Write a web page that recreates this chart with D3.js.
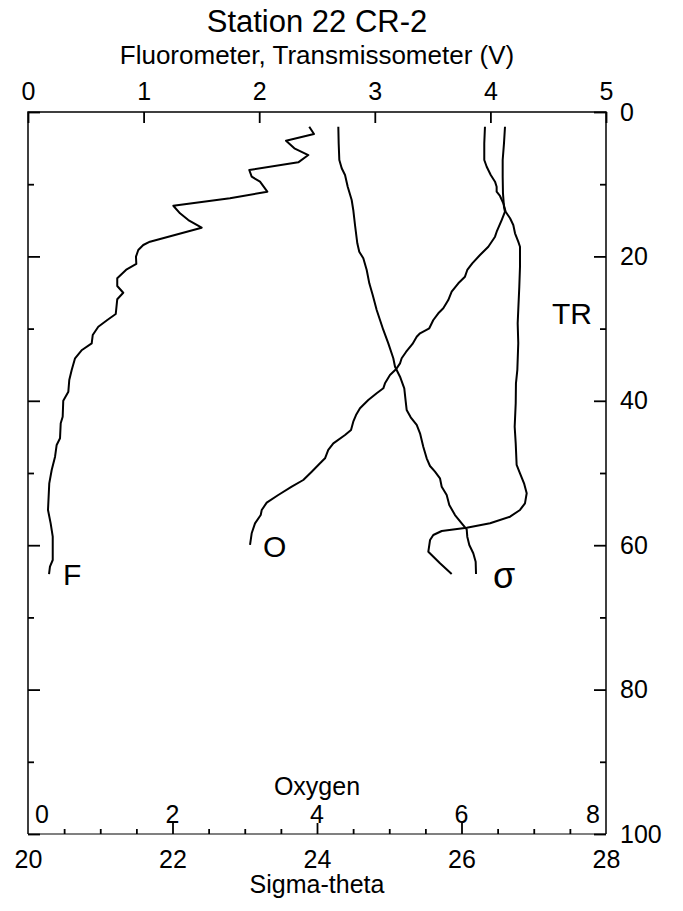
<!DOCTYPE html>
<html>
<head>
<meta charset="utf-8">
<script src="https://cdn.jsdelivr.net/npm/d3@7"></script>
<style>
  html, body { margin: 0; padding: 0; background: #fff; }
  svg { display: block; font-family: "Liberation Sans", Arial, Helvetica, sans-serif; }
</style>
</head>
<body>
<svg id="chart" width="683" height="911"></svg>
<script>
// ---- Data ----
const titleText = "Station 22 CR-2";
const topAxisTitle = "Fluorometer, Transmissometer (V)";
const oxyAxisTitle = "Oxygen";
const sigmaAxisTitle = "Sigma-theta";

const topTicks = [0, 1, 2, 3, 4, 5];
const depthMajorTicks = [0, 20, 40, 60, 80, 100];
const depthMinorTicks = [10, 30, 50, 70, 90];
const oxyTicks = [0, 2, 4, 6, 8];
const sigmaMajorTicks = [20, 22, 24, 26, 28];
const sigmaMinorTicks = [20.5, 21, 21.5, 22.5, 23, 23.5, 24.5, 25, 25.5, 26.5, 27, 27.5];

// Fluorometer (V) vs depth (m)
const fluorDepth = [2.04, 3.05, 3.97, 5.03, 5.96, 6.97, 8.03, 8.96, 9.65, 11.04, 11.95, 12.98, 14.03, 14.96, 16.02, 17.96, 18.42, 19.11, 20.04, 21.05, 21.79, 22.44, 23.03, 24.1, 25.03, 25.94, 27.98, 28.81, 29.74, 30.89, 32.04, 32.96, 34.11, 35.73, 37.12, 38.74, 39.99, 42.2, 43.12, 45.19, 46.12, 47.74, 49.58, 51.43, 55.12, 56.97, 58.82, 62.05, 62.98, 64.0];
const fluor = [2.433, 2.474, 2.232, 2.304, 2.425, 2.338, 1.914, 1.935, 2.007, 2.07, 1.747, 1.257, 1.315, 1.387, 1.502, 1.055, 0.997, 0.954, 0.934, 0.937, 0.854, 0.811, 0.772, 0.772, 0.824, 0.772, 0.759, 0.686, 0.608, 0.56, 0.551, 0.467, 0.407, 0.378, 0.357, 0.349, 0.305, 0.3, 0.283, 0.277, 0.248, 0.234, 0.205, 0.184, 0.173, 0.196, 0.214, 0.214, 0.19, 0.182];

// Transmissometer (V) vs depth (m)
const transDepth = [2.04, 4.34, 6.65, 7.58, 8.73, 9.65, 10.35, 11.04, 11.63, 12.65, 13.81, 14.72, 15.65, 16.8, 17.96, 18.66, 21.43, 24.2, 27.42, 29.27, 32.04, 35.73, 37.58, 40.35, 43.59, 45.89, 48.89, 50.04, 51.43, 52.81, 54.2, 55.12, 56.05, 56.97, 57.58, 58.03, 58.59, 59.28, 60.9, 62.51, 63.99];
const trans = [3.953, 3.947, 3.947, 3.968, 4.003, 4.04, 4.054, 4.054, 4.083, 4.112, 4.132, 4.17, 4.198, 4.213, 4.241, 4.256, 4.256, 4.25, 4.241, 4.236, 4.241, 4.233, 4.221, 4.219, 4.21, 4.219, 4.227, 4.256, 4.291, 4.314, 4.299, 4.256, 4.17, 3.997, 3.795, 3.579, 3.506, 3.478, 3.463, 3.564, 3.665];

// Oxygen vs depth (m)
const oxyDepth = [2.04, 4.34, 6.65, 8.96, 11.26, 13.12, 13.81, 14.96, 16.58, 17.27, 18.66, 19.81, 20.96, 21.88, 22.81, 23.73, 24.89, 26.04, 27.19, 27.88, 28.81, 29.96, 30.65, 31.12, 32.13, 33.24, 34.11, 34.81, 35.64, 36.43, 37.58, 38.27, 38.96, 39.89, 41.04, 41.97, 42.89, 44.04, 44.74, 45.89, 46.81, 47.96, 48.66, 49.82, 50.97, 51.9, 53.05, 54.11, 55.12, 55.82, 56.97, 58.35, 59.97];
const oxygen = [6.602, 6.588, 6.57, 6.57, 6.574, 6.588, 6.602, 6.556, 6.487, 6.464, 6.371, 6.256, 6.149, 6.08, 6.048, 5.956, 5.864, 5.817, 5.748, 5.679, 5.61, 5.554, 5.426, 5.38, 5.322, 5.232, 5.172, 5.149, 5.093, 5.01, 4.941, 4.918, 4.826, 4.71, 4.595, 4.54, 4.502, 4.471, 4.388, 4.226, 4.156, 4.111, 4.042, 3.927, 3.81, 3.65, 3.464, 3.304, 3.235, 3.221, 3.142, 3.096, 3.073];

// Sigma-theta vs depth (m)
const sigmaDepth = [2.04, 4.34, 6.65, 7.8, 8.73, 10.35, 12.19, 13.57, 15.65, 18.19, 19.35, 20.26, 21.88, 23.73, 25.35, 27.42, 28.81, 30.19, 32.04, 34.11, 35.28, 36.66, 38.27, 40.12, 41.27, 42.29, 43.35, 44.5, 46.36, 47.96, 49.03, 49.82, 50.73, 51.9, 53.05, 54.43, 55.82, 56.97, 57.8, 58.82, 59.97, 61.12, 62.29, 63.99];
const sigma = [24.295, 24.3, 24.309, 24.342, 24.388, 24.425, 24.48, 24.502, 24.526, 24.558, 24.585, 24.641, 24.688, 24.724, 24.771, 24.826, 24.872, 24.918, 24.987, 25.056, 25.08, 25.149, 25.208, 25.228, 25.241, 25.297, 25.38, 25.426, 25.471, 25.518, 25.564, 25.633, 25.702, 25.726, 25.795, 25.831, 25.91, 26.003, 26.072, 26.08, 26.108, 26.163, 26.196, 26.201];

const curveLabels = [
  { text: "F", series: "fluor" },
  { text: "O", series: "oxygen" },
  { text: "TR", series: "trans" },
  { text: "\u03C3", series: "sigma" }
];

// ---- Layout ----
const L = 28, R = 606, T = 112, B = 834;
const FONT = 25;

const svg = d3.select("#chart");

const xV = d3.scaleLinear().domain([0, 5]).range([L, R]);
const xO = d3.scaleLinear().domain([0, 8]).range([L, R]);
const xS = d3.scaleLinear().domain([20, 28]).range([L, R]);
const y = d3.scaleLinear().domain([0, 100]).range([T, B]);

// Titles
svg.append("text").attr("x", (L + R) / 2).attr("y", 32)
  .attr("text-anchor", "middle").attr("font-size", 31).text(titleText);
svg.append("text").attr("x", (L + R) / 2).attr("y", 64)
  .attr("text-anchor", "middle").attr("font-size", 26).text(topAxisTitle);

// Bottom frame line (grey)
svg.append("line").attr("x1", L).attr("x2", R).attr("y1", B).attr("y2", B)
  .attr("stroke", "#808080").attr("stroke-width", 2);

// Frame: top, left, right (black)
svg.append("path")
  .attr("d", `M${L},${B}V${T}H${R}V${B}`)
  .attr("fill", "none").attr("stroke", "#000").attr("stroke-width", 1.5);

function styleAxis(g) {
  g.select(".domain").remove();
  g.selectAll(".tick line").attr("stroke", "#000").attr("stroke-width", 1.8);
  g.selectAll(".tick text").attr("font-size", FONT)
    .attr("font-family", "Liberation Sans, Arial, Helvetica, sans-serif").attr("fill", "#000");
}

// Top axis (Fluorometer/Transmissometer V)
svg.append("g").attr("transform", `translate(0,${T})`)
  .call(d3.axisTop(xV).tickValues(topTicks).tickSize(-11).tickSizeOuter(0)
    .tickPadding(12).tickFormat(d3.format("d")))
  .call(styleAxis);

// Right axis (depth)
svg.append("g").attr("transform", `translate(${R},0)`)
  .call(d3.axisRight(y).tickValues(depthMajorTicks).tickSize(-12).tickSizeOuter(0)
    .tickPadding(14).tickFormat(d3.format("d")))
  .call(styleAxis);
svg.append("g").attr("transform", `translate(${R},0)`)
  .call(d3.axisRight(y).tickValues(depthMinorTicks).tickSize(-6).tickSizeOuter(0).tickFormat(""))
  .call(styleAxis);

// Left axis (depth, no labels)
svg.append("g").attr("transform", `translate(${L},0)`)
  .call(d3.axisLeft(y).tickValues(depthMajorTicks).tickSize(-12).tickSizeOuter(0).tickFormat(""))
  .call(styleAxis);
svg.append("g").attr("transform", `translate(${L},0)`)
  .call(d3.axisLeft(y).tickValues(depthMinorTicks).tickSize(-6).tickSizeOuter(0).tickFormat(""))
  .call(styleAxis);

// Bottom axis (Sigma-theta)
const gS = svg.append("g").attr("transform", `translate(0,${B})`)
  .call(d3.axisBottom(xS).tickValues(sigmaMajorTicks).tickSize(-11).tickSizeOuter(0)
    .tickPadding(16).tickFormat(d3.format("d")))
  .call(styleAxis);
gS.selectAll(".tick").filter(d => d === 20 || d === 28).select("line").remove();
svg.append("g").attr("transform", `translate(0,${B})`)
  .call(d3.axisBottom(xS).tickValues(sigmaMinorTicks).tickSize(-5).tickSizeOuter(0).tickFormat(""))
  .call(styleAxis);

// Oxygen tick labels (inside the frame above bottom axis)
svg.append("g").selectAll("text").data(oxyTicks).join("text")
  .attr("x", (d, i) => i === 0 ? xO(d) + 7 : (i === oxyTicks.length - 1 ? xO(d) - 6 : xO(d)))
  .attr("y", 823)
  .attr("text-anchor", (d, i) => i === 0 ? "start" : (i === oxyTicks.length - 1 ? "end" : "middle"))
  .attr("font-size", FONT).text(d => d);

svg.append("text").attr("x", (L + R) / 2).attr("y", 795)
  .attr("text-anchor", "middle").attr("font-size", FONT).text(oxyAxisTitle);
svg.append("text").attr("x", (L + R) / 2).attr("y", 893)
  .attr("text-anchor", "middle").attr("font-size", FONT).text(sigmaAxisTitle);

// Profiles
const series = {
  fluor:  { xs: fluor,  ys: fluorDepth, sx: xV },
  trans:  { xs: trans,  ys: transDepth, sx: xV },
  oxygen: { xs: oxygen, ys: oxyDepth,   sx: xO },
  sigma:  { xs: sigma,  ys: sigmaDepth, sx: xS }
};
Object.values(series).forEach(s => {
  const pts = s.xs.map((v, i) => [v, s.ys[i]]);
  svg.append("path")
    .attr("d", d3.line().x(p => s.sx(p[0])).y(p => y(p[1]))(pts))
    .attr("fill", "none").attr("stroke", "#000").attr("stroke-width", 2)
    .attr("stroke-linejoin", "round");
});

// Curve labels, placed relative to each profile's deepest point
const labelPos = {
  fluor:  { dx: 14, dy: 11, size: 30 },
  oxygen: { dx: 13, dy: 12, size: 30 },
  sigma:  { dx: 17, dy: 14, size: 36 }
};
curveLabels.forEach(c => {
  const s = series[c.series];
  if (c.series === "trans") {
    // TR label sits left of the right axis near 30 m
    svg.append("text").attr("x", R - 54).attr("y", y(29.3))
      .attr("font-size", 30).text(c.text);
    return;
  }
  const n = s.xs.length - 1;
  const p = labelPos[c.series];
  svg.append("text")
    .attr("x", s.sx(s.xs[n]) + p.dx)
    .attr("y", y(s.ys[n]) + p.dy)
    .attr("font-size", p.size).text(c.text);
});
</script>
</body>
</html>
